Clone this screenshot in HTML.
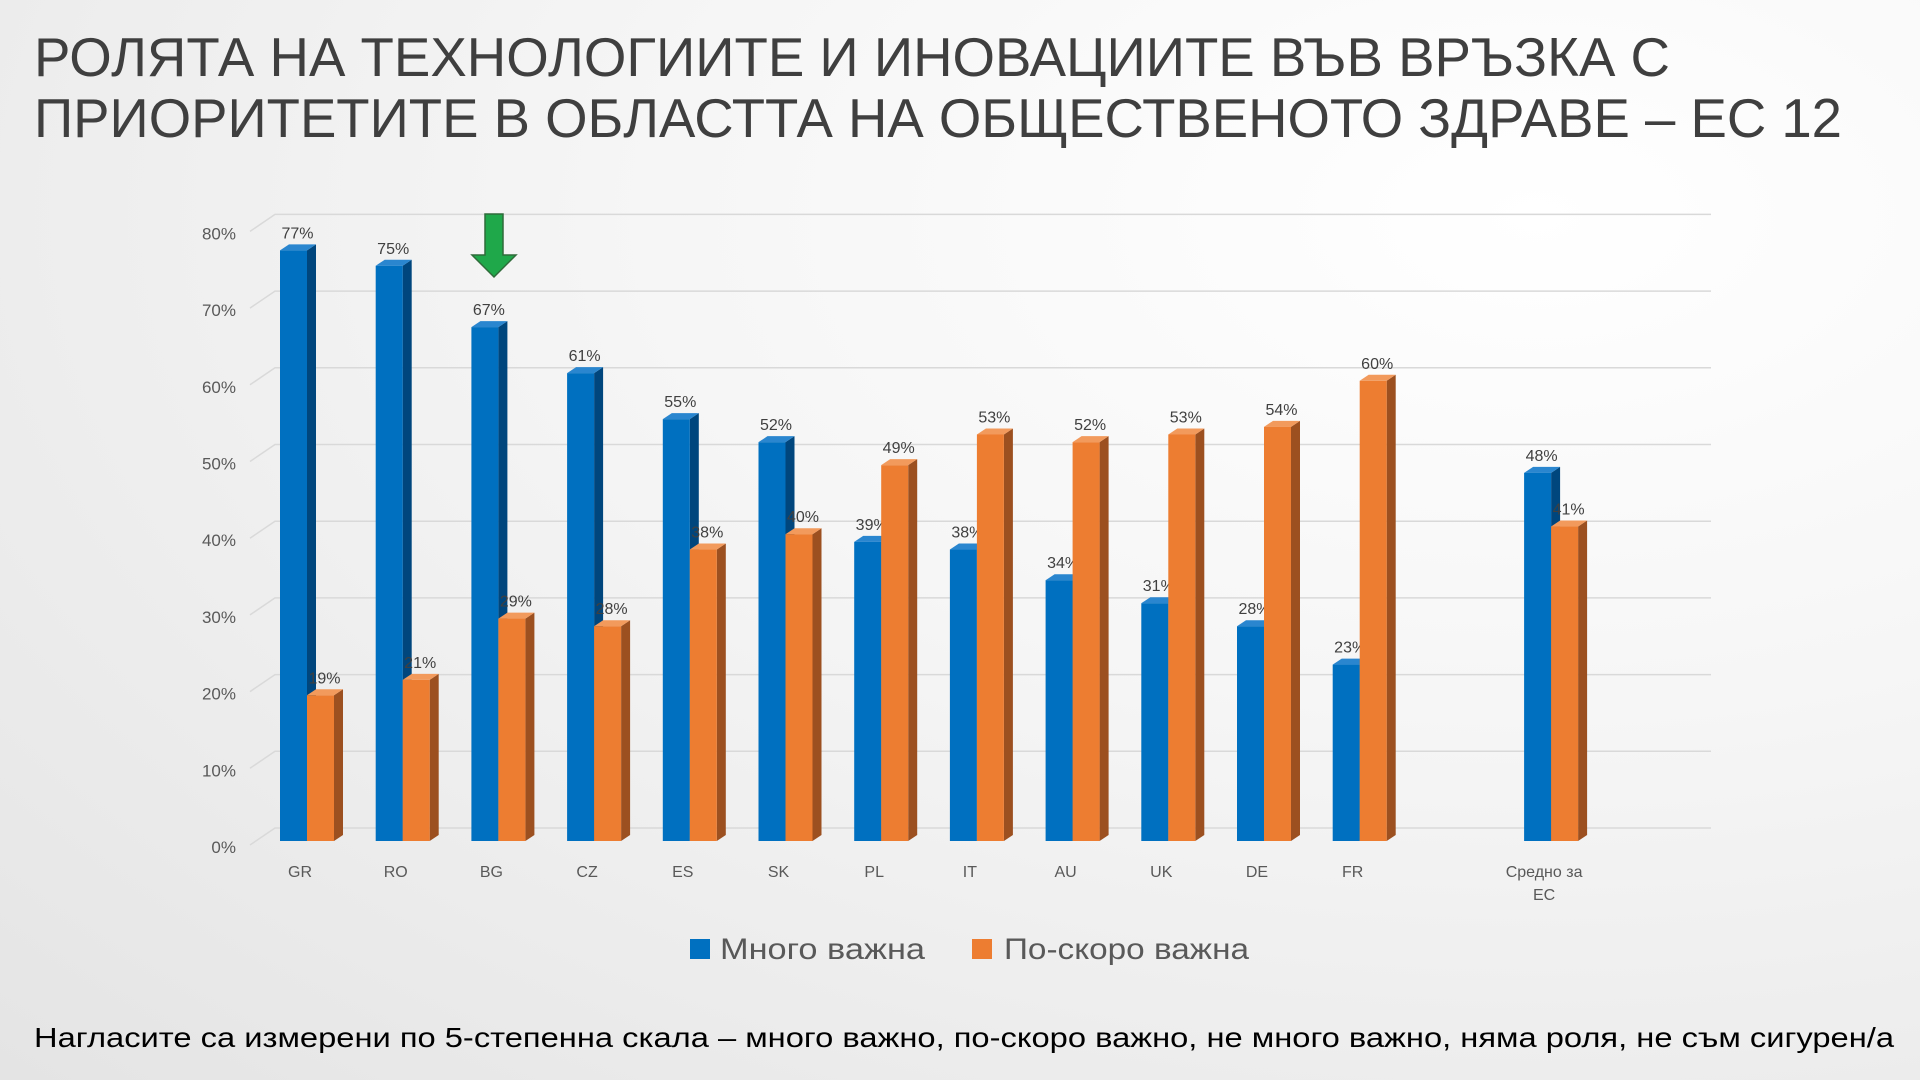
<!DOCTYPE html>
<html><head><meta charset="utf-8">
<style>
html,body{margin:0;padding:0;width:1920px;height:1080px;overflow:hidden}
body{background:radial-gradient(ellipse at 80% 20%,#ffffff 0%,#f6f6f6 40%,#e4e4e4 100%);font-family:"Liberation Sans","DejaVu Sans",sans-serif}
svg{position:absolute;left:0;top:0}
</style></head>
<body>
<svg id="chart" width="1920" height="1080">
  <g fill="#3f3f3f" font-size="55" font-family="Liberation Sans, DejaVu Sans, sans-serif">
    <text x="34" y="76" textLength="1636" lengthAdjust="spacingAndGlyphs">РОЛЯТА НА ТЕХНОЛОГИИТЕ И ИНОВАЦИИТЕ ВЪВ ВРЪЗКА С</text>
    <text x="34" y="137" textLength="1808" lengthAdjust="spacingAndGlyphs">ПРИОРИТЕТИТЕ В ОБЛАСТТА НА ОБЩЕСТВЕНОТО ЗДРАВЕ – ЕС 12</text>
  </g>
  <g id="grid"></g>
  <g id="yaxis"></g>
  <g id="bars"></g>
  <g id="xaxis"></g>
  <polygon points="485,214 503,214 503,255 516,255 494,277 472,255 485,255" fill="#1fa84a" stroke="#2f6b3a" stroke-width="1.5"/>
  <g>
    <rect x="690" y="939" width="20" height="20" fill="#0070C0"/>
    <text x="720" y="959" font-size="30" fill="#595959" textLength="205" lengthAdjust="spacingAndGlyphs">Много важна</text>
    <rect x="972" y="939" width="20" height="20" fill="#ED7D31"/>
    <text x="1004" y="959" font-size="30" fill="#595959" textLength="245" lengthAdjust="spacingAndGlyphs">По-скоро важна</text>
  </g>
  <text x="34" y="1047" font-size="28" fill="#000" textLength="1860" lengthAdjust="spacingAndGlyphs">Нагласите са измерени по 5-степенна скала – много важно,  по-скоро важно, не много важно, няма роля, не съм сигурен/а</text>
</svg>
<script>
const categories = ["GR","RO","BG","CZ","ES","SK","PL","IT","AU","UK","DE","FR","Средно за ЕС"];
const slots = [0,1,2,3,4,5,6,7,8,9,10,11,13];
const veryImportant = [77,75,67,61,55,52,39,38,34,31,28,23,48];
const ratherImportant = [19,21,29,28,38,40,49,53,52,53,54,60,41];
const yTicks = [0,10,20,30,40,50,60,70,80];

const NS = "http://www.w3.org/2000/svg";
const y0 = 841, hFull = 767;
const yF = v => y0 - v / 100 * hFull;
const xC = i => 307 + i * 95.7;
const DX = 9, DY = -6, BW = 27;
function mk(tag, attrs, parent){const e=document.createElementNS(NS,tag);for(const k in attrs)e.setAttribute(k,attrs[k]);parent.appendChild(e);return e;}

const grid = document.getElementById('grid');
const yaxis = document.getElementById('yaxis');
yTicks.forEach(t => {
  const yb = yF(t) - 13;
  const l = mk('polyline',{points:`250,${yb+17} 275,${yb} 1711,${yb}`,fill:'none',stroke:'#d9d9d9','stroke-width':1.5},grid);
  
  
  const tx = mk('text',{x:236,y:yF(t)+12,'text-anchor':'end','font-size':17,fill:'#595959'},yaxis);
  tx.textContent = t + '%';
  
  
});

const bars = document.getElementById('bars');
function bar(x, v, front, side, top, name){
  const g = mk('g',{},bars);
  
  
  const yt = yF(v);
  mk('polygon',{points:`${x+BW},${yt} ${x+BW+DX},${yt+DY} ${x+BW+DX},${y0+DY} ${x+BW},${y0}`,fill:side},g);
  mk('polygon',{points:`${x},${yt} ${x+DX},${yt+DY} ${x+BW+DX},${yt+DY} ${x+BW},${yt}`,fill:top},g);
  mk('rect',{x:x,y:yt,width:BW,height:y0-yt,fill:front},g);
  const t = mk('text',{x:x+BW/2+4,y:yt-12,'text-anchor':'middle','font-size':16,fill:'#404040'},g);
  t.textContent = v + '%';
}
categories.forEach((c,i) => {
  const cx = xC(slots[i]);
  bar(cx-BW, veryImportant[i], '#0070C0', '#00467d', '#2a86cf', 'bar-very-important-' + i);
});
categories.forEach((c,i) => {
  const cx = xC(slots[i]);
  bar(cx, ratherImportant[i], '#ED7D31', '#9c5020', '#f29a5c', 'bar-rather-important-' + i);
});

const xaxis = document.getElementById('xaxis');
categories.forEach((c,i) => {
  const cx = xC(slots[i]) - 7;
  const parts = c === "Средно за ЕС" ? ["Средно за","ЕС"] : [c];
  parts.forEach((p,k) => {
    const t = mk('text',{x:cx,y:877+k*23,'text-anchor':'middle','font-size':16,fill:'#595959'},xaxis);
    t.textContent = p;
    
    
  });
});
</script>
</body></html>
